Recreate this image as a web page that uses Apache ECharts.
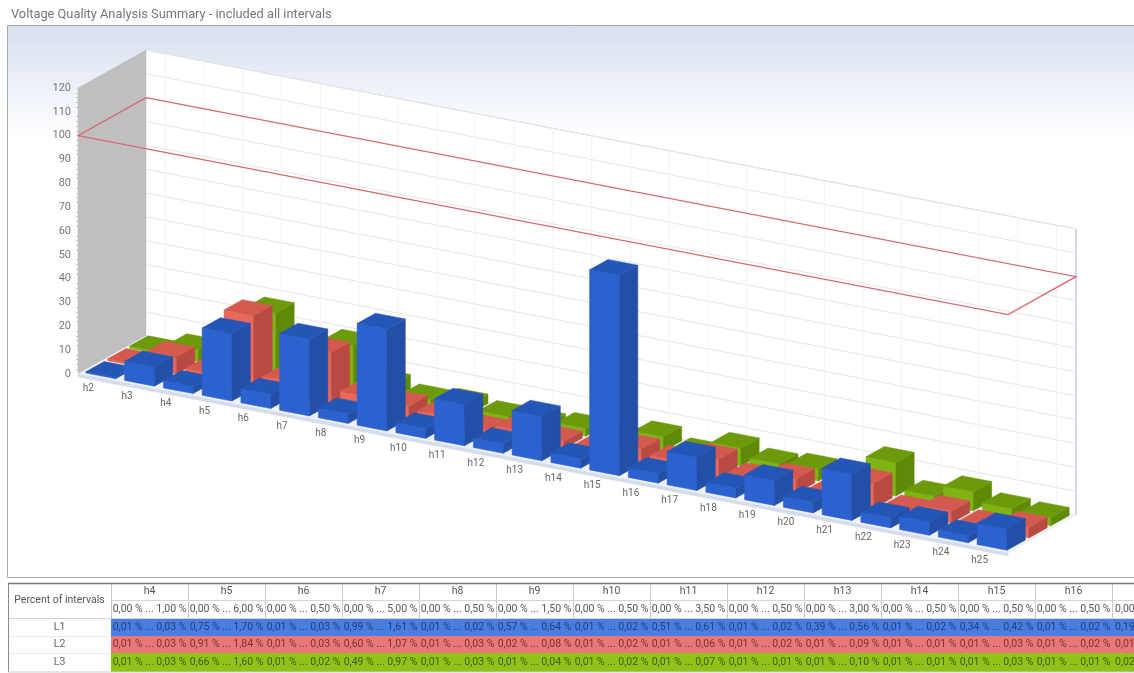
<!DOCTYPE html>
<html>
<head>
<meta charset="utf-8">
<title>Voltage Quality Analysis Summary</title>
<script src="https://cdn.jsdelivr.net/npm/echarts@6/dist/echarts.min.js"></script>
<style>
  html, body { margin: 0; padding: 0; background: #fff; overflow: hidden; }
  #chart { width: 1134px; height: 673px; }
</style>
</head>
<body>
<div id="chart"></div>
<script>
// bars: percent of limit per harmonic
const categories = ['h2','h3','h4','h5','h6','h7','h8','h9','h10','h11','h12','h13','h14','h15','h16','h17','h18','h19','h20','h21','h22','h23','h24','h25'];
const l1Values = [0.5, 8, 3, 28.3, 6, 32.2, 4, 42.7, 4, 17.4, 4, 18.7, 4, 84, 4, 14, 4, 10.5, 4.5, 19.5, 4.2, 5.5, 3, 9];
const l2Values = [0.8, 7, 3, 30.7, 6, 21.4, 6, 5.3, 4, 1.7, 4, 3, 2, 6, 4, 8, 3, 6, 2, 10.5, 2, 5, 2, 4.5];
const l3Values = [1, 5, 3, 26.7, 4, 19.4, 6, 2.7, 4, 2, 2, 3.3, 2, 6, 2, 7.5, 4, 5, 2, 14, 3, 8, 4, 3.4];
const limitValue = 100;
const yTicks = [0, 10, 20, 30, 40, 50, 60, 70, 80, 90, 100, 110, 120];

// table below the chart
const tableCols = ['h4','h5','h6','h7','h8','h9','h10','h11','h12','h13','h14','h15','h16'];
const limitRow = ['0,00 % ... 1,00 %','0,00 % ... 6,00 %','0,00 % ... 0,50 %','0,00 % ... 5,00 %','0,00 % ... 0,50 %','0,00 % ... 1,50 %','0,00 % ... 0,50 %','0,00 % ... 3,50 %','0,00 % ... 0,50 %','0,00 % ... 3,00 %','0,00 % ... 0,50 %','0,00 % ... 0,50 %','0,00 % ... 0,50 %','0,00'];
const l1Row = ['0,01 % ... 0,03 %','0,75 % ... 1,70 %','0,01 % ... 0,03 %','0,99 % ... 1,61 %','0,01 % ... 0,02 %','0,57 % ... 0,64 %','0,01 % ... 0,02 %','0,51 % ... 0,61 %','0,01 % ... 0,02 %','0,39 % ... 0,56 %','0,01 % ... 0,02 %','0,34 % ... 0,42 %','0,01 % ... 0,02 %','0,19'];
const l2Row = ['0,01 % ... 0,03 %','0,91 % ... 1,84 %','0,01 % ... 0,03 %','0,60 % ... 1,07 %','0,01 % ... 0,03 %','0,02 % ... 0,08 %','0,01 % ... 0,02 %','0,01 % ... 0,06 %','0,01 % ... 0,02 %','0,01 % ... 0,09 %','0,01 % ... 0,01 %','0,01 % ... 0,03 %','0,01 % ... 0,02 %','0,01'];
const l3Row = ['0,01 % ... 0,03 %','0,66 % ... 1,60 %','0,01 % ... 0,02 %','0,49 % ... 0,97 %','0,01 % ... 0,03 %','0,01 % ... 0,04 %','0,01 % ... 0,02 %','0,01 % ... 0,07 %','0,01 % ... 0,01 %','0,01 % ... 0,10 %','0,01 % ... 0,01 %','0,01 % ... 0,03 %','0,01 % ... 0,01 %','0,02'];

// oblique projection on top of the normal cartesian grid
const GRID_LEFT = 78;
const GRID_TOP = 88;
const GRID_W = 930;
const GRID_H = 286;
const SLOPE = 0.1925;
const DEPTH_X = 68;
const DEPTH_Y = 38;

const proj = (pt, d) => [
  pt[0] + d * DEPTH_X,
  pt[1] + (pt[0] - GRID_LEFT) * SLOPE - d * DEPTH_Y
];

const poly = (points, fill, extra) => Object.assign({
  type: 'polygon',
  silent: true,
  shape: { points },
  style: { fill, stroke: fill, lineWidth: 0.5 }
}, extra);

const line = (a, b, stroke, lineWidth) => ({
  type: 'line',
  silent: true,
  shape: { x1: a[0], y1: a[1], x2: b[0], y2: b[1] },
  style: { stroke, lineWidth }
});

// one row of 3d bars, d0 is where the bar starts in depth
function barRow(values, name, d0, colors) {
  const BAR_W = 0.77;
  const BAR_D = 0.27;
  return {
    type: 'custom',
    name,
    coordinateSystem: 'cartesian2d',
    clip: false,
    z: 5,
    data: values.map((v, i) => [i, v]),
    encode: { x: 0, y: 1 },
    renderItem(params, api) {
      const top = api.coord([api.value(0), api.value(1)]);
      const base = api.coord([api.value(0), 0]);
      const w = api.size([1, 0])[0];
      const x0 = top[0] - w * BAR_W / 2;
      const x1 = top[0] + w * BAR_W / 2;
      const d1 = d0 + BAR_D;
      const a = proj([x0, base[1]], d0), b = proj([x1, base[1]], d0), c = proj([x1, base[1]], d1);
      const e = proj([x0, top[1]], d0), f = proj([x1, top[1]], d0), g = proj([x1, top[1]], d1), h = proj([x0, top[1]], d1);
      return {
        type: 'group',
        children: [
          poly([a, b, f, e], colors[0]),
          poly([b, c, g, f], colors[2]),
          poly([e, f, g, h], colors[1])
        ]
      };
    }
  };
}

// table as graphic elements
const TABLE_X = 8;
const FIRST_W = 103;
const COL_W = 77;
const ROW_Y = [583, 600, 618, 636, 653, 672];
const TEXT_FONT = '10.5px Roboto, sans-serif';

function tableGraphic() {
  const els = [];
  const rect = (x, y, w, h, fill) => els.push({ type: 'rect', silent: true, shape: { x, y, width: w, height: h }, style: { fill } });
  const txt = (x, y, text, fill, align, font) => els.push({ type: 'text', silent: true, style: { x, y, text, fill, align: align || 'center', verticalAlign: 'middle', font: font || TEXT_FONT } });
  const hl = (x1, y, x2, stroke, lw) => els.push({ type: 'line', silent: true, shape: { x1, y1: y, x2, y2: y }, style: { stroke, lineWidth: lw || 1 } });
  const vl = (x, y1, y2, stroke) => els.push({ type: 'line', silent: true, shape: { x1: x, y1, x2: x, y2 }, style: { stroke, lineWidth: 1 } });

  const dataX = TABLE_X + FIRST_W;
  const rows = [
    { vals: l1Row, fill: '#4a7de0', ink: '#24407e', name: 'L1' },
    { vals: l2Row, fill: '#e87878', ink: '#7e3036', name: 'L2' },
    { vals: l3Row, fill: '#8fc31a', ink: '#3f5e0e', name: 'L3' }
  ];
  rows.forEach((r, ri) => {
    rect(dataX, ROW_Y[ri + 2], 1134 - dataX, ROW_Y[ri + 3] - ROW_Y[ri + 2], r.fill);
    txt(TABLE_X + FIRST_W / 2, (ROW_Y[ri + 2] + ROW_Y[ri + 3]) / 2, r.name, '#666');
    r.vals.forEach((v, i) => {
      if (i < tableCols.length) {
        txt(dataX + COL_W * i + COL_W / 2, (ROW_Y[ri + 2] + ROW_Y[ri + 3]) / 2, v, r.ink);
      } else {
        txt(dataX + COL_W * i + 3, (ROW_Y[ri + 2] + ROW_Y[ri + 3]) / 2, v, r.ink, 'left');
      }
    });
  });
  txt(TABLE_X + FIRST_W / 2, (ROW_Y[0] + ROW_Y[2]) / 2, 'Percent of intervals', '#555');
  tableCols.forEach((c, i) => {
    txt(dataX + COL_W * i + COL_W / 2, (ROW_Y[0] + ROW_Y[1]) / 2, c, '#555');
  });
  limitRow.forEach((v, i) => {
    if (i < tableCols.length) {
      txt(dataX + COL_W * i + COL_W / 2, (ROW_Y[1] + ROW_Y[2]) / 2, v, '#555');
    } else {
      txt(dataX + COL_W * i + 3, (ROW_Y[1] + ROW_Y[2]) / 2, v, '#555', 'left');
    }
  });
  for (let i = 0; i <= tableCols.length; i++) {
    vl(dataX + COL_W * i + 0.5, ROW_Y[0], ROW_Y[2], '#c8c8c8');
  }
  hl(dataX, ROW_Y[1] + 0.5, 1134, '#d4d4d4');
  hl(TABLE_X, ROW_Y[2] + 0.5, 1134, '#d4d4d4');
  hl(TABLE_X, ROW_Y[3] + 0.5, dataX, '#e8e8e8');
  hl(TABLE_X, ROW_Y[4] + 0.5, dataX, '#e8e8e8');
  hl(TABLE_X, ROW_Y[0] + 0.5, 1134, '#777', 1.5);
  vl(TABLE_X + 0.5, ROW_Y[0], ROW_Y[5], '#888');
  hl(TABLE_X, ROW_Y[5], 1134, '#ccc');
  return els;
}

const chart = echarts.init(document.getElementById('chart'), null, { renderer: 'canvas' });

// edges of the value/category area, in pixels
const areaEdges = (api, v) => {
  const mid0 = api.coord([0, v]);
  const mid1 = api.coord([categories.length - 1, v]);
  const w = api.size([1, 0])[0];
  return [[mid0[0] - w / 2, mid0[1]], [mid1[0] + w / 2, mid1[1]]];
};

chart.setOption({
  animation: false,
  title: {
    text: 'Voltage Quality Analysis Summary - included all intervals',
    left: 6,
    top: 3,
    textStyle: { color: '#777', fontWeight: 'normal', fontSize: 12.8, fontFamily: 'Roboto, sans-serif' }
  },
  graphic: [
    {
      type: 'rect',
      silent: true,
      z: -10,
      shape: { x: 7.5, y: 25.5, width: 1134, height: 552 },
      style: {
        stroke: '#a9a9a9',
        lineWidth: 1,
        fill: new echarts.graphic.LinearGradient(0, 0, 0, 1, [
          { offset: 0, color: '#d6dff0' },
          { offset: 0.2, color: '#ffffff' },
          { offset: 1, color: '#ffffff' }
        ])
      }
    },
    ...tableGraphic()
  ],
  grid: { left: GRID_LEFT, top: GRID_TOP, width: GRID_W, height: GRID_H, containLabel: false },
  xAxis: {
    type: 'category',
    data: categories,
    axisLine: { show: false },
    axisTick: { show: false },
    axisLabel: { show: false },
    splitLine: { show: false }
  },
  yAxis: {
    type: 'value',
    min: 0,
    max: 120,
    interval: 10,
    axisLine: { show: false },
    axisTick: { show: false },
    minorTick: { show: true, splitNumber: 5, length: 2, lineStyle: { color: '#c4c4c4' } },
    minorSplitLine: { show: false },
    splitLine: { show: false },
    axisLabel: { color: '#777', fontSize: 11, margin: 7, fontFamily: 'Roboto, sans-serif' }
  },
  series: [
    {
      // walls and floor
      type: 'custom',
      name: 'walls',
      coordinateSystem: 'cartesian2d',
      clip: false,
      z: 1,
      data: [[0, 0]],
      renderItem(params, api) {
        const [b0, b1] = areaEdges(api, 0);
        const [t0, t1] = areaEdges(api, 120);
        const f0 = proj(b0, 0), f1 = proj(b1, 0);
        const slab = [f0, f1, [f1[0], f1[1] + 3], [f0[0], f0[1] + 3]];
        return {
          type: 'group',
          children: [
            poly([proj(b0, 1), proj(b1, 1), proj(t1, 1), proj(t0, 1)], '#ffffff'),
            poly([proj(b0, 0), proj(b0, 1), proj(t0, 1), proj(t0, 0)], '#bfbfbf'),
            poly([proj(b0, 0), proj(b1, 0), proj(b1, 1), proj(b0, 1)], '#f1f1f3'),
            poly(slab, '#d3dbec'),
            line(proj(t0, 1), proj(t1, 1), '#d2d6de', 1),
            line(proj(t1, 1), proj(b1, 1), '#d5d9e4', 2)
          ]
        };
      }
    },
    {
      // horizontal lines on the back wall
      type: 'custom',
      name: 'wallLines',
      coordinateSystem: 'cartesian2d',
      clip: false,
      z: 2,
      data: yTicks.map(v => [0, v]),
      renderItem(params, api) {
        const [a, b] = areaEdges(api, api.value(1));
        return line(proj(a, 1), proj(b, 1), '#e6e6e6', 1);
      }
    },
    {
      // vertical lines on the back wall
      type: 'custom',
      name: 'wallColumns',
      coordinateSystem: 'cartesian2d',
      clip: false,
      z: 2,
      data: categories.map((c, i) => [i, 120]),
      renderItem(params, api) {
        const t = api.coord([api.value(0), 120]);
        const b = api.coord([api.value(0), 0]);
        return line(proj(t, 1), proj(b, 1), '#f3f3f3', 1);
      }
    },
    barRow(l3Values, 'L3', 0.695, ['#7fb414', '#6c9a0a', '#5f8a05']),
    barRow(l2Values, 'L2', 0.372, ['#e8685d', '#d45a50', '#b84a42']),
    barRow(l1Values, 'L1', 0.05, ['#2b62cf', '#2456b8', '#234fa6']),
    {
      // limit plane
      type: 'custom',
      name: 'limit',
      coordinateSystem: 'cartesian2d',
      clip: false,
      z: 6,
      data: [[0, limitValue]],
      renderItem(params, api) {
        const [a, b] = areaEdges(api, api.value(1));
        return {
          type: 'polygon',
          silent: true,
          shape: { points: [proj(a, 0), proj(b, 0), proj(b, 1), proj(a, 1)] },
          style: { fill: 'none', stroke: '#d8696c', lineWidth: 1.3 }
        };
      }
    },
    {
      // category labels along the slanted front edge
      type: 'custom',
      name: 'labels',
      coordinateSystem: 'cartesian2d',
      clip: false,
      z: 6,
      data: categories.map((c, i) => [i, 0]),
      renderItem(params, api) {
        const p = proj(api.coord([api.value(0), 0]), 0);
        return {
          type: 'text',
          silent: true,
          style: {
            x: p[0] - 9,
            y: p[1] + 11,
            text: categories[api.value(0)],
            fill: '#666',
            align: 'center',
            verticalAlign: 'middle',
            font: '10px Roboto, sans-serif'
          }
        };
      }
    }
  ]
});
</script>
</body>
</html>
